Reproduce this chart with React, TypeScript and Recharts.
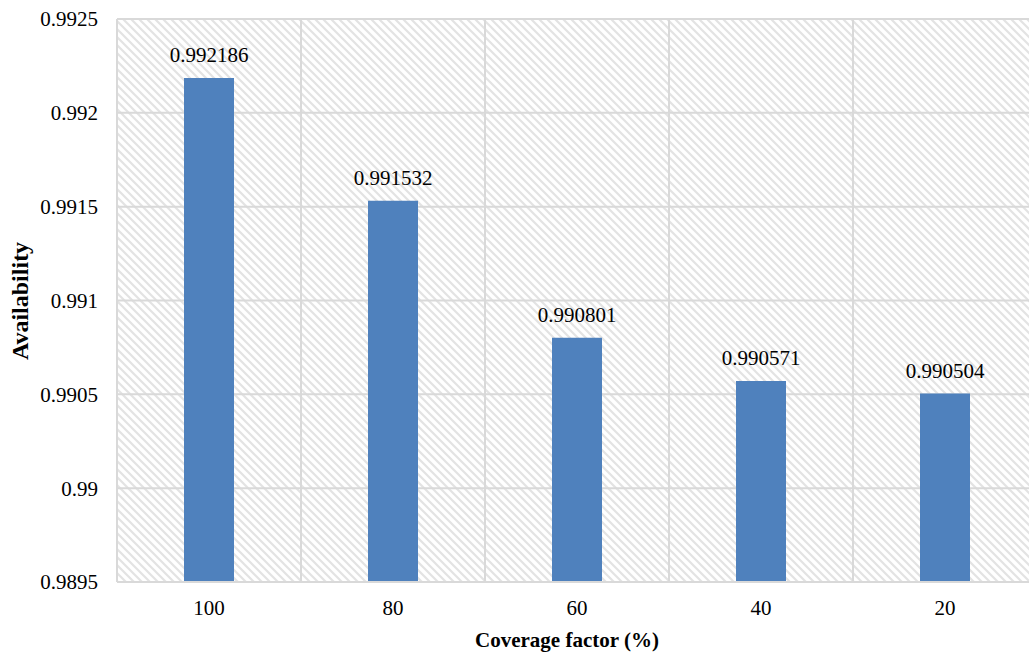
import React from 'react';
import { BarChart, Bar, XAxis, YAxis, CartesianGrid, LabelList, Label } from 'recharts';

const coverage = ['100', '80', '60', '40', '20'];
const availability = [0.992186, 0.991532, 0.990801, 0.990571, 0.990504];
const yTicks = [0.9895, 0.99, 0.9905, 0.991, 0.9915, 0.992, 0.9925];

const data = coverage.map((c, i) => ({ coverage: c, availability: availability[i] }));

const FONT = '"Liberation Serif", "Times New Roman", serif';
const GRID = '#d9d9d9';

const XTitle = (props: any) => {
  const vb = props.viewBox || {};
  return (
    <text
      x={vb.x + vb.width / 2 - 10}
      y={647}
      textAnchor="middle"
      fontFamily={FONT}
      fontSize={21}
      fontWeight="bold"
      fill="#000"
    >
      Coverage factor (%)
    </text>
  );
};

const YTitle = () => (
  <text
    x={0}
    y={0}
    transform="translate(28, 301) rotate(-90)"
    textAnchor="middle"
    fontFamily={FONT}
    fontSize={24}
    fontWeight="bold"
    fill="#000"
  >
    Availability
  </text>
);

const XTick = (props: any) => (
  <text x={props.x} y={props.y} dy="0.71em" textAnchor="middle" fontFamily={FONT} fontSize={21} fill="#000">
    {props.payload.value}
  </text>
);

const YTick = (props: any) => (
  <text x={props.x} y={props.y} dy="0.355em" textAnchor="end" fontFamily={FONT} fontSize={21} fill="#000">
    {String(Number(Number(props.payload.value).toFixed(4)))}
  </text>
);

const ValueLabel = (props: any) => (
  <text
    x={props.x + props.width / 2}
    y={props.y - 16}
    textAnchor="middle"
    fontFamily={FONT}
    fontSize={21}
    fill="#000"
  >
    {props.value}
  </text>
);

// vertical grid lines sit on the category boundaries
const categoryBoundaries = ({ offset }: any) =>
  Array.from({ length: coverage.length + 1 }, (_, i) => offset.left + (i * offset.width) / coverage.length);

export default function App() {
  return (
    <div
      style={{
        position: 'absolute',
        left: 0,
        top: 0,
        width: 1029,
        height: 656,
        overflow: 'hidden',
        background: '#fff',
        fontFamily: FONT,
      }}
    >
      <BarChart
        width={1045}
        height={656}
        data={data}
        margin={{ top: 19, right: 8, left: 0, bottom: 0 }}
        barCategoryGap={0}
      >
        <defs>
          <pattern id="hatch" width="8" height="8" patternUnits="userSpaceOnUse">
            <rect width="8" height="8" fill="#ffffff" />
            <path d="M-2,-2 L10,10 M-2,6 L2,10 M6,-2 L10,2" stroke="#e3e3e3" strokeWidth={2.2} />
          </pattern>
        </defs>
        <CartesianGrid
          stroke={GRID}
          strokeWidth={2}
          fill="url(#hatch)"
          vertical={true}
          horizontal={true}
          verticalCoordinatesGenerator={categoryBoundaries}
        />
        <XAxis
          dataKey="coverage"
          height={74}
          axisLine={{ stroke: GRID, strokeWidth: 2 }}
          tickLine={false}
          tickMargin={12}
          tick={XTick}
        >
          <Label content={XTitle} />
        </XAxis>
        <YAxis
          width={117}
          domain={[0.9895, 0.9925]}
          ticks={yTicks}
          interval={0}
          axisLine={false}
          tickLine={false}
          tickMargin={13}
          tick={YTick}
          allowDataOverflow
        >
          <Label content={YTitle} />
        </YAxis>
        <Bar dataKey="availability" fill="#4F81BD" barSize={50} isAnimationActive={false}>
          <LabelList dataKey="availability" content={ValueLabel} />
        </Bar>
      </BarChart>
    </div>
  );
}
